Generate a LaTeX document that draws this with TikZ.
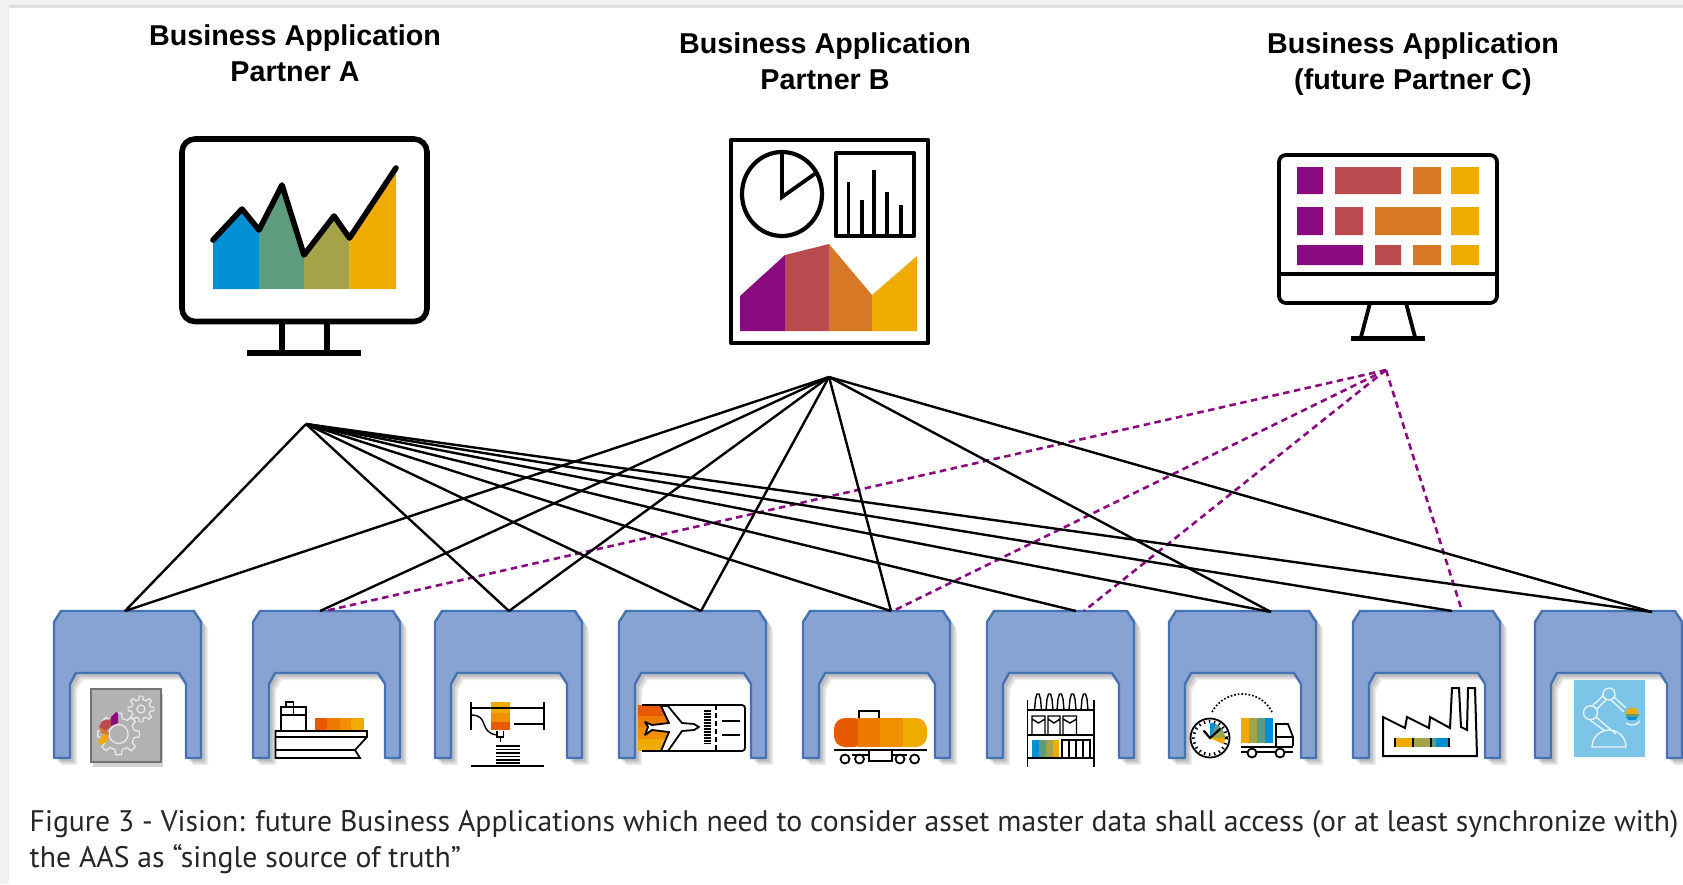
\documentclass[tikz,border=0pt]{standalone}
\usepackage{fontspec}
\setmainfont{Liberation Sans}
\newfontfamily\capfont{PT Sans}
\usetikzlibrary{shadows}
\definecolor{sapblue}{HTML}{008FD3}
\definecolor{sapgreen}{HTML}{5F9C7F}
\definecolor{sapolive}{HTML}{A5A34A}
\definecolor{sapgold}{HTML}{F0AB00}
\definecolor{sappurple}{HTML}{8A0A80}
\definecolor{sapred}{HTML}{BB4A4F}
\definecolor{saporange}{HTML}{D67826}
\definecolor{warmA}{HTML}{E85A00}
\definecolor{warmB}{HTML}{EE7A00}
\definecolor{warmC}{HTML}{F09000}
\definecolor{gatefill}{HTML}{86A3D1}
\definecolor{gateline}{HTML}{4472B4}
\definecolor{stripgray}{HTML}{F1F1F1}
\definecolor{robotblue}{HTML}{7DC5E8}
\newcommand{\gateshape}[1]{
	\draw[gate,xshift=#1pt] (0,758) -- (0,622) -- (7,611) -- (140,611) -- (147,622) -- (147,758)
	-- (132,758) -- (132,684) -- (125,673) -- (22,673) -- (16,684) -- (16,758) -- cycle;
}
\newcommand{\gearwheel}[4]{
	\draw[gearline] \foreach \a in {0,45,...,315}{(#1,#2)+(\a-13:#3) -- +(\a-8:#4) -- +(\a+8:#4)
	-- +(\a+13:#3) -- +(\a+32:#3)};
}
\begin{document}
\begin{tikzpicture}[x=1pt,y=-1pt,
		gate/.style={draw=gateline,fill=gatefill,line width=2.4pt,line join=round,
			drop shadow={shadow xshift=7pt,shadow yshift=-7pt,opacity=.14},
			drop shadow={shadow xshift=5.5pt,shadow yshift=-5.5pt,opacity=.2},
			drop shadow={shadow xshift=3.5pt,shadow yshift=-3.5pt,opacity=.28}},
		link/.style={draw=black,line width=2.4pt},
		futurelink/.style={draw=sappurple,line width=2.6pt,dash pattern=on 6.5pt off 4.5pt},
		heading/.style={font=\bfseries\fontsize{28.7}{36}\selectfont,align=center},
		captionline/.style={font=\capfont\fontsize{29.7}{36}\selectfont,anchor=base west,inner sep=0pt,text=black!85},
		screen/.style={draw=black,line width=5.6pt,line join=round},
		thinscreen/.style={draw=black,line width=3.8pt,line join=round},
		iconline/.style={draw=black,line width=1.8pt},
		gearline/.style={draw=white!85!gray,line width=1.2pt,line join=round},
		robotline/.style={draw=white!85!robotblue,line width=1.3pt}
		]
		\useasboundingbox (0,0) rectangle (1683,884);
		\fill[white] (0,0) rectangle (1683,884);
		\fill[stripgray] (0,0) rectangle (9,884);
		\fill[stripgray] (0,0) rectangle (1683,5);
		\fill[stripgray!92!black] (9,5) rectangle (1683,8);

		\node[heading](T0) at (295,53){Business Application\\Partner A};
		\node[heading](T1) at (825,61){Business Application\\Partner B};
		\node[heading](T2) at (1413,64){Business Application\\(future Partner C)};

		\fill[sapblue] (213,289) -- (213,240) -- (242,209) -- (259,230) -- (259,289) -- cycle;
		\fill[sapgreen] (259,289) -- (259,230) -- (282,185) -- (304,255) -- (304,289) -- cycle;
		\fill[sapolive] (304,289) -- (304,255) -- (334,216) -- (349.5,238) -- (349.5,289) -- cycle;
		\fill[sapgold] (349.5,289) -- (349.5,238) -- (396,168) -- (396,289) -- cycle;
		\draw[screen,line cap=round] (213,240) -- (242,209) -- (259,230) -- (282,185) -- (304,255)
		-- (334,216) -- (349.5,238) -- (396,168);
		\draw[screen,rounded corners=13pt] (182,139) rectangle (427,321.5);
		\draw[screen] (282,321) -- (282,352) (327,321) -- (327,352);
		\draw[screen,line width=6pt] (247,352.5) -- (361,352.5);

		\draw[thinscreen,line width=4.8pt] (731,140) rectangle (928,343);
		\draw[thinscreen,line width=4.2pt] (782,194) ellipse (40 and 42);
		\draw[thinscreen,line join=miter] (782,152) -- (782,197) -- (816,173);
		\draw[thinscreen,line width=4.2pt] (836,153) rectangle (914,236);
		\draw[thinscreen,line width=3.4pt] (848.5,236) -- (848.5,182) (862,236) -- (862,200)
		(874,236) -- (874,170) (887,236) -- (887,192) (901,236) -- (901,205);
		\fill[sappurple] (740,331) -- (740,296) -- (785,255) -- (785,331) -- cycle;
		\fill[sapred] (785,331) -- (785,255) -- (829,244) -- (829,331) -- cycle;
		\fill[saporange] (829,331) -- (829,244) -- (872,295) -- (872,331) -- cycle;
		\fill[sapgold] (872,331) -- (872,295) -- (917,256) -- (917,331) -- cycle;

		\fill[sappurple] (1297,167) rectangle (1323,194) (1297,207) rectangle (1323,235) (1297,245) rectangle (1363,265);
		\fill[sapred] (1335,167) rectangle (1401,194) (1335,207) rectangle (1363,235) (1375,245) rectangle (1401,265);
		\fill[saporange] (1413,167) rectangle (1441,194) (1375,207) rectangle (1441,235) (1413,245) rectangle (1441,265);
		\fill[sapgold] (1451,167) rectangle (1479,194) (1451,207) rectangle (1479,235) (1451,245) rectangle (1479,265);
		\draw[thinscreen,rounded corners=7pt] (1279,155) rectangle (1497,303);
		\draw[thinscreen] (1279,274) -- (1497,274);
		\draw[thinscreen] (1370,303) -- (1361,337) (1406,303) -- (1415,337);
		\draw[thinscreen,line width=5pt] (1351,338) -- (1425,338);

		\gateshape{54}
		\gateshape{253}
		\gateshape{435}
		\gateshape{619}
		\gateshape{803}
		\gateshape{987}
		\gateshape{1169}
		\gateshape{1353}
		\gateshape{1535}

		\coordinate (HA) at (306,424);
		\coordinate (HB) at (829,377);
		\coordinate (HC) at (1386,370);
		\coordinate (G1) at (125,611);
		\coordinate (G2) at (320,611);
		\coordinate (G3) at (509,611);
		\coordinate (G4) at (701,611);
		\coordinate (G5) at (891,611);
		\coordinate (G6) at (1076,611);
		\coordinate (G7) at (1271,612);
		\coordinate (G8) at (1452,611);
		\coordinate (G9) at (1652,612);
		\coordinate (F2) at (325,611);
		\coordinate (F5) at (893,611);
		\coordinate (F6) at (1084,611);
		\coordinate (F8) at (1462,611);

		\draw[futurelink] (HC) -- (F2);
		\draw[futurelink] (HC) -- (F5);
		\draw[futurelink] (HC) -- (F6);
		\draw[futurelink] (HC) -- (F8);
		\draw[link] (HA) -- (G1);
		\draw[link] (HA) -- (G3);
		\draw[link] (HA) -- (G4);
		\draw[link] (HA) -- (G5);
		\draw[link] (HA) -- (G6);
		\draw[link] (HA) -- (G7);
		\draw[link] (HA) -- (G8);
		\draw[link] (HA) -- (G9);
		\draw[link] (HB) -- (G1);
		\draw[link] (HB) -- (G2);
		\draw[link] (HB) -- (G3);
		\draw[link] (HB) -- (G4);
		\draw[link] (HB) -- (G5);
		\draw[link] (HB) -- (G7);
		\draw[link] (HB) -- (G9);

		\fill[black!30,drop shadow={shadow xshift=2pt,shadow yshift=-5pt,opacity=.35}] (91,689) rectangle (161,762);
		\draw[black!55,line width=1.4pt] (91,689) rectangle (161,762);
		\gearwheel{118.6}{734}{16}{21}
		\draw[gearline] (118.6,734) circle (9.5);
		\gearwheel{141}{709}{9.5}{13}
		\draw[gearline] (141,709) circle (4);
		\fill[sappurple] (111,717) -- (116,712) -- (118,713) -- (118,723) -- (111,726) -- cycle;
		\fill[sapred] (102,721) -- (111,719) -- (111,726) -- (106,731) -- (99,727) -- cycle;
		\fill[saporange] (99,727) -- (106,731) -- (109,732) -- (108,735) -- (101,733) -- cycle;
		\fill[sapgold] (102,735) -- (108,735) -- (108,741) -- (101,745) -- (98,742) -- cycle;

		\fill[warmA] (314.6,718) rectangle (327,731);
		\fill[warmB] (327,718) rectangle (340,731);
		\fill[warmC] (340,718) rectangle (351,731);
		\fill[sapgold] (351,718) rectangle (363.6,731);
		\draw[iconline] (275.5,731) -- (367,731) -- (367,737) -- (355,750) -- (360,758) -- (275.5,758) -- cycle;
		\draw[iconline] (275.5,737) -- (367,737) (275.5,750) -- (355,750);
		\draw[iconline] (281,731) -- (281,707) -- (306,707) -- (306,731) (281,715) -- (306,715) (293.5,707) -- (293.5,715);
		\draw[iconline] (286,707) -- (286,702) -- (293.5,702) -- (293.5,707);

		\fill[sapgold] (490.6,713) rectangle (510,702);
		\fill[warmC] (490.6,713) rectangle (510,722);
		\fill[warmA] (490.6,722) rectangle (510,730);
		\draw[iconline,line width=1.4pt] (471,708) -- (544,708) (471,702) -- (471,730) (544,702) -- (544,730) (513.6,724) -- (544,724);
		\draw[iconline,line width=1.4pt] (471,715) .. controls (490,715) and (478,733) .. (497.5,735);
		\draw[iconline,line width=1.4pt] (497,731) -- (497,737) -- (503.6,737) -- (503.6,731) (500.3,737) -- (500.3,742);
		\draw[iconline,line width=1.4pt] (496,746) -- (520,746) (496,749.5) -- (520,749.5) (496,753) -- (520,753) (496,756.5) -- (520,756.5) (496,760) -- (520,760) (496,763) -- (520,763);
		\draw[iconline] (471,766) -- (544,766);

		\fill[warmA] (638,705) rectangle (668,716);
		\fill[warmB] (638,716) rectangle (670,727);
		\fill[warmC] (638,727) rectangle (670,739);
		\fill[sapgold] (638,739) rectangle (668,751);
		\draw[iconline,rounded corners=3pt] (642,705) -- (745,705) -- (745,751) -- (642,751);
		\draw[iconline,fill=white,line join=round] (645,722) -- (652,725) -- (669,723) -- (661,706) -- (668,706) -- (682,723)
		-- (694,724) -- (699,727) -- (694,730) -- (682,731) -- (668,751) -- (661,751) -- (669,732) -- (652,730) -- (645,735) -- (648,727) -- cycle;
		\draw[black,line width=7pt,dash pattern=on 1.6pt off 1.4pt] (707.5,710) -- (707.5,744);
		\draw[iconline,dash pattern=on 5pt off 3pt] (716,705) -- (716,751);
		\draw[iconline] (722,721) -- (740,721) (722,735) -- (740,735);

		\fill[warmA,rounded corners=11pt] (834,718) rectangle (865,747);
		\fill[warmB] (857.6,718) rectangle (880,747);
		\fill[sapgold,rounded corners=11pt] (895,718) rectangle (927,747);
		\fill[warmC] (880,718) rectangle (903,747);
		\draw[iconline] (859,718) -- (859,711) -- (879,711) -- (879,718);
		\draw[iconline] (834,750) -- (927,750) (869,750) rectangle (892,761) (852,755) -- (869,755) (892,755) -- (907,755);
		\draw[iconline] (845,759) circle (4.5) (859.5,759) circle (4.5) (900,759) circle (4.5) (914.6,759) circle (4.5);

		\fill[sapblue] (1032,740) rectangle (1039,758);
		\fill[sapgreen] (1039,740) rectangle (1046,758);
		\fill[sapolive] (1046,740) rectangle (1052.5,758);
		\fill[sapgold] (1052.5,740) rectangle (1059,758);
		\draw[iconline] (1027.5,700) -- (1027.5,767) (1093.7,700) -- (1093.7,767) (1027.5,710) -- (1093.7,710) (1027.5,735) -- (1093.7,735) (1027.5,758) -- (1093.7,758);
		\draw[iconline,line width=1.4pt] (1034.5,710) -- (1035.5,699) -- (1037,694) -- (1039,694) -- (1040.5,699) -- (1041.5,710);
		\draw[iconline,line width=1.4pt] (1046,710) -- (1047,699) -- (1048.5,694) -- (1050.5,694) -- (1052,699) -- (1053,710);
		\draw[iconline,line width=1.4pt] (1057,710) -- (1058,699) -- (1059.5,694) -- (1061.5,694) -- (1063,699) -- (1064,710);
		\draw[iconline,line width=1.4pt] (1069,710) -- (1070,699) -- (1071.5,694) -- (1073.5,694) -- (1075,699) -- (1076,710);
		\draw[iconline,line width=1.4pt] (1081,710) -- (1082,699) -- (1083.5,694) -- (1085.5,694) -- (1087,699) -- (1088,710);
		\draw[iconline,line width=1.4pt] (1032,735) -- (1032,716) -- (1045,716) -- (1045,735) (1032,719) -- (1038.5,723) -- (1045,719);
		\draw[iconline,line width=1.4pt] (1048,735) -- (1048,716) -- (1060,716) -- (1060,735) (1048,719) -- (1054,723) -- (1060,719);
		\draw[iconline,line width=1.4pt] (1063,735) -- (1063,716) -- (1076.5,716) -- (1076.5,735) (1063,719) -- (1070,723) -- (1076.5,719);
		\draw[iconline,line width=1.4pt] (1062,758) -- (1062,740) -- (1090,740) -- (1090,758) (1069,740) -- (1069,758) (1076,740) -- (1076,758) (1083,740) -- (1083,758);

		\fill[sapblue] (1210,738) -- +(-90:15) arc[start angle=-90,end angle=-65,radius=15] -- cycle;
		\fill[sapgreen] (1210,738) -- +(-65:15) arc[start angle=-65,end angle=-30,radius=15] -- cycle;
		\fill[sapolive] (1210,738) -- +(-30:15) arc[start angle=-30,end angle=0,radius=15] -- cycle;
		\fill[sapgold] (1210,738) -- +(0:15) arc[start angle=0,end angle=25,radius=15] -- cycle;
		\draw[iconline] (1210,738) circle (19.5);
		\draw[black,line width=3pt,dash pattern=on 1.4pt off 3.7pt] (1210,738) circle (16.5);
		\draw[black,line width=2.2pt,line cap=round] (1204,731) -- (1210,738) -- (1220,729);
		\fill[sapgold] (1241,718) rectangle (1249,743);
		\fill[sapolive] (1249,718) rectangle (1257,743);
		\fill[sapgreen] (1257,718) rectangle (1265,743);
		\fill[sapblue] (1265,718) rectangle (1272.5,743);
		\draw[iconline] (1276,746) -- (1276,724) -- (1288,724) -- (1293,737) -- (1293,746) (1276,737) -- (1293,737);
		\draw[iconline] (1241,747) -- (1293,747) (1241,752) -- (1293,752);
		\draw[iconline,fill=white] (1252,753) circle (4.5) (1280,753) circle (4.5);
		\draw[black,line width=1.7pt,dash pattern=on 1.7pt off 1.9pt] (1212,712) .. controls (1225,688) and (1260,688) .. (1272,712);

		\fill[sapgold] (1395,738) rectangle (1413,747);
		\fill[sapolive] (1413,738) rectangle (1431,747);
		\fill[sapgreen] (1431,738) rectangle (1436,747);
		\fill[sapblue] (1436,738) rectangle (1449,747);
		\draw[black,line width=1.5pt] (1395,738) -- (1395,747) (1413,738) -- (1413,747) (1431,738) -- (1431,747) (1449,738) -- (1449,747);
		\draw[iconline,line width=2pt,line join=miter] (1383,756) -- (1383,717) -- (1405,728) -- (1407,717) -- (1429,728) -- (1430,717) -- (1450,728) -- (1452,688) -- (1459,688) -- (1461,727) -- (1467,730) -- (1468,688) -- (1475,688) -- (1477,756) -- cycle;

		\fill[robotblue] (1573.5,680) rectangle (1645,757);
		\draw[robotline] (1592,747) -- (1626,747) arc[start angle=0,end angle=-180,x radius=17,y radius=17] -- cycle;
		\draw[robotline] (1590.5,712.7) circle (7) (1609,694) circle (6);
		\draw[robotline] (1596,717) -- (1616,734) (1590,720) -- (1605,731);
		\draw[robotline] (1593,705) -- (1603,696) (1597,709) -- (1606,700);
		\draw[robotline] (1614,697) -- (1626,708) (1611,700) -- (1624,712);
		\fill[sapgold] (1632,714) +(-6.5,0) arc[start angle=180,end angle=360,radius=6.5] -- cycle;
		\fill[sapgreen] (1625.5,714) rectangle (1638.5,717);
		\fill[sapblue] (1626.3,717) -- (1637.7,717) -- (1635.5,720) -- (1628.5,720) -- cycle;
		\draw[robotline] (1640,721) .. controls (1636,726) and (1631,726) .. (1626,723);

		\node[captionline](L0) at (29.5,831){Figure 3 - Vision: future Business Applications which need to consider asset master data shall access (or at least synchronize with)};
		\node[captionline](L1) at (29.5,867){the AAS as “single source of truth”};
	\end{tikzpicture}
\end{document}
